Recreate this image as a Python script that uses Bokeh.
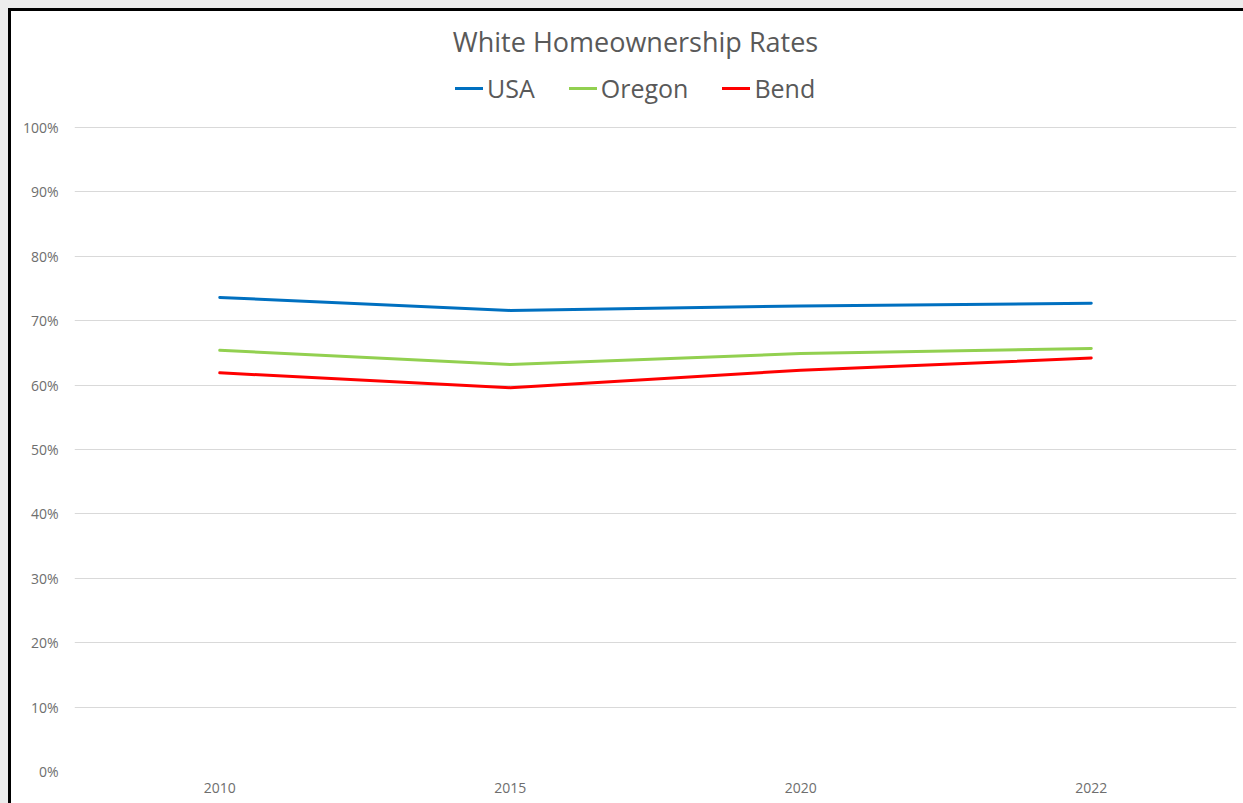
from bokeh.plotting import figure
from bokeh.models import FactorRange, Range1d, FixedTicker, NumeralTickFormatter, Legend, LegendItem, Label
from bokeh.embed import file_html
from bokeh.resources import INLINE

years = ["2010", "2015", "2020", "2022"]
usa = [0.736, 0.716, 0.723, 0.727]
oregon = [0.654, 0.632, 0.649, 0.657]
bend = [0.619, 0.596, 0.623, 0.642]
series_names = ["USA", "Oregon", "Bend"]
colors = ["#0070C0", "#92D050", "#FF0000"]
title_text = "White Homeownership Rates"

FONT = "Open Sans"
GREY = "#595959"
TICK_GREY = "#6E6E6E"

# layout (pixels in the canvas)
W, H = 1243, 803
FRAME_LEFT, FRAME_TOP, FRAME_BOTTOM, FRAME_RIGHT = 74, 12, 771, 1236
Y100 = 127  # where the 100% gridline sits
y_end = (FRAME_BOTTOM - FRAME_TOP) / (FRAME_BOTTOM - Y100)

p = figure(
    width=W, height=H,
    x_range=FactorRange(*years, range_padding=0),
    y_range=Range1d(0, y_end),
    output_backend="svg", toolbar_location=None,
    min_border_left=FRAME_LEFT, min_border_right=W - FRAME_RIGHT, min_border_top=FRAME_TOP,
    min_border_bottom=H - FRAME_BOTTOM,
    background_fill_color="white", border_fill_color=None,
)
p.styles = {
    "background-color": "white",
    "box-shadow": "inset 8px 8px 0 0 #ECECEC, inset 11px 11px 0 0 #000000",
}
p.outline_line_color = None

items = []
for name, vals, c in zip(series_names, [usa, oregon, bend], colors):
    r = p.line(years, vals, line_color=c, line_width=3, line_join="round", line_cap="round")
    items.append(LegendItem(label=name, renderers=[r]))

legend = Legend(items=items, orientation="horizontal", location=(381, 666))
legend.label_text_font = FONT
legend.label_text_font_size = "25px"
legend.label_text_color = GREY
legend.glyph_width = 28
legend.glyph_height = 24
legend.label_standoff = 4
legend.spacing = 34
legend.padding = 0
legend.margin = 0
legend.border_line_color = None
legend.background_fill_alpha = 0
p.add_layout(legend)

title = Label(x=635 - FRAME_LEFT, y=FRAME_BOTTOM - 41, x_units="screen", y_units="screen",
              text=title_text, text_align="center", text_baseline="middle",
              text_font=FONT, text_font_size="27px", text_color=GREY)
p.add_layout(title)

p.yaxis.ticker = FixedTicker(ticks=[i / 10 for i in range(11)])
p.yaxis.formatter = NumeralTickFormatter(format="0%")
for ax in (p.xaxis, p.yaxis):
    ax.axis_line_color = None
    ax.major_tick_line_color = None
    ax.minor_tick_line_color = None
    ax.major_tick_in = 0
    ax.major_tick_out = 0
    ax.major_label_text_font = FONT
    ax.major_label_text_font_size = "14px"
    ax.major_label_text_color = TICK_GREY
p.yaxis.major_label_standoff = 16
p.xaxis.major_label_standoff = 11

p.xgrid.grid_line_color = None
p.ygrid.grid_line_color = "#D9D9D9"
p.ygrid.grid_line_width = 1

open("out.html", "w").write(file_html(p, INLINE))
